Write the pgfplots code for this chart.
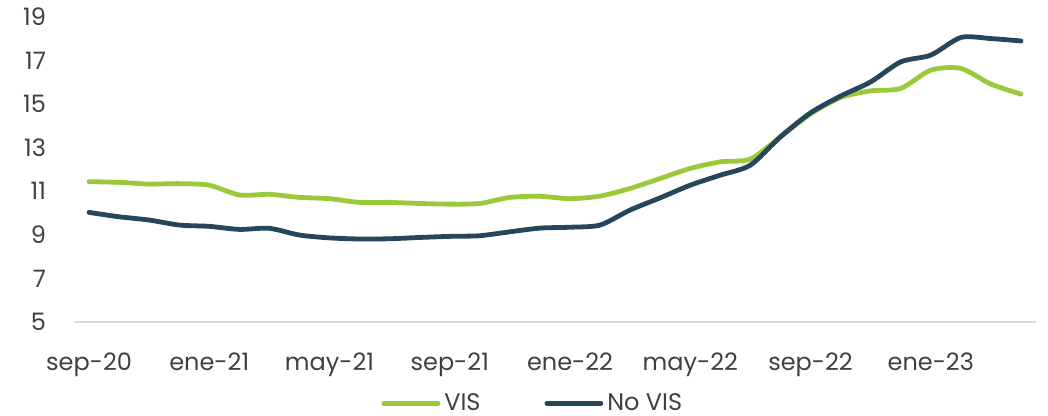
\documentclass[border=0pt]{standalone}
\usepackage{pgfplots}
\pgfplotsset{compat=1.18}
\usepackage{fontspec}
\setmainfont{Poppins}
\definecolor{visgreen}{RGB}{154,202,60}
\definecolor{novis}{RGB}{38,70,92}
\definecolor{txt}{RGB}{64,64,64}
\definecolor{axgrey}{RGB}{217,217,217}
\begin{document}
\begin{tikzpicture}
\path[use as bounding box] (0,0) rectangle (524pt,208pt);
\begin{axis}[
  at={(37pt,47pt)}, anchor=south west,
  scale only axis, width=481pt, height=152.5pt,
  xmin=-0.5, xmax=31.5, ymin=5, ymax=19,
  ytick={5,7,...,19},
  xtick={0,4,8,12,16,20,24,28},
  xticklabels={sep-20,ene-21,may-21,sep-21,ene-22,may-22,sep-22,ene-23},
  axis x line*=bottom, axis y line*=left,
  x axis line style={axgrey, line width=0.8pt, -},
  y axis line style={draw=none},
  major tick length=0pt,
  tick style={draw=none},
  /pgf/number format/assume math mode=true,
  ticklabel style={font=\fontsize{12}{14}\selectfont, text=txt},
  yticklabel style={xshift=-10.5pt},
  xticklabel style={yshift=-12pt},
  clip=false,
  legend style={draw=none, fill=none, at={(0.478,-0.266)}, anchor=center,
    legend columns=2, font=\fontsize{12}{14}\selectfont, text=txt,
    /tikz/every even column/.append style={column sep=30pt},
    inner sep=0pt, cells={anchor=west}},
  legend image code/.code={\draw[#1, line cap=round] (0pt,0pt) -- (27pt,0pt);},
]
\addplot[visgreen, line width=2.4pt, smooth, tension=0.45, line cap=round] coordinates {
(0,11.44)(1,11.41)(2,11.33)(3,11.35)(4,11.28)(5,10.83)(6,10.86)(7,10.72)(8,10.66)(9,10.49)(10,10.49)(11,10.44)(12,10.41)(13,10.44)(14,10.72)(15,10.77)(16,10.66)(17,10.78)(18,11.13)(19,11.59)(20,12.05)(21,12.35)(22,12.48)(23,13.5)(24,14.55)(25,15.3)(26,15.61)(27,15.72)(28,16.56)(29,16.64)(30,15.92)(31,15.46)
};
\addlegendentry{VIS}
\addplot[novis, line width=2.4pt, smooth, tension=0.45, line cap=round] coordinates {
(0,10.03)(1,9.83)(2,9.68)(3,9.45)(4,9.39)(5,9.25)(6,9.30)(7,8.99)(8,8.86)(9,8.81)(10,8.82)(11,8.88)(12,8.93)(13,8.96)(14,9.14)(15,9.31)(16,9.35)(17,9.45)(18,10.14)(19,10.70)(20,11.28)(21,11.74)(22,12.2)(23,13.5)(24,14.6)(25,15.37)(26,16.02)(27,16.94)(28,17.25)(29,18.06)(30,18.01)(31,17.9)
};
\addlegendentry{No VIS}
\end{axis}
\end{tikzpicture}
\end{document}
